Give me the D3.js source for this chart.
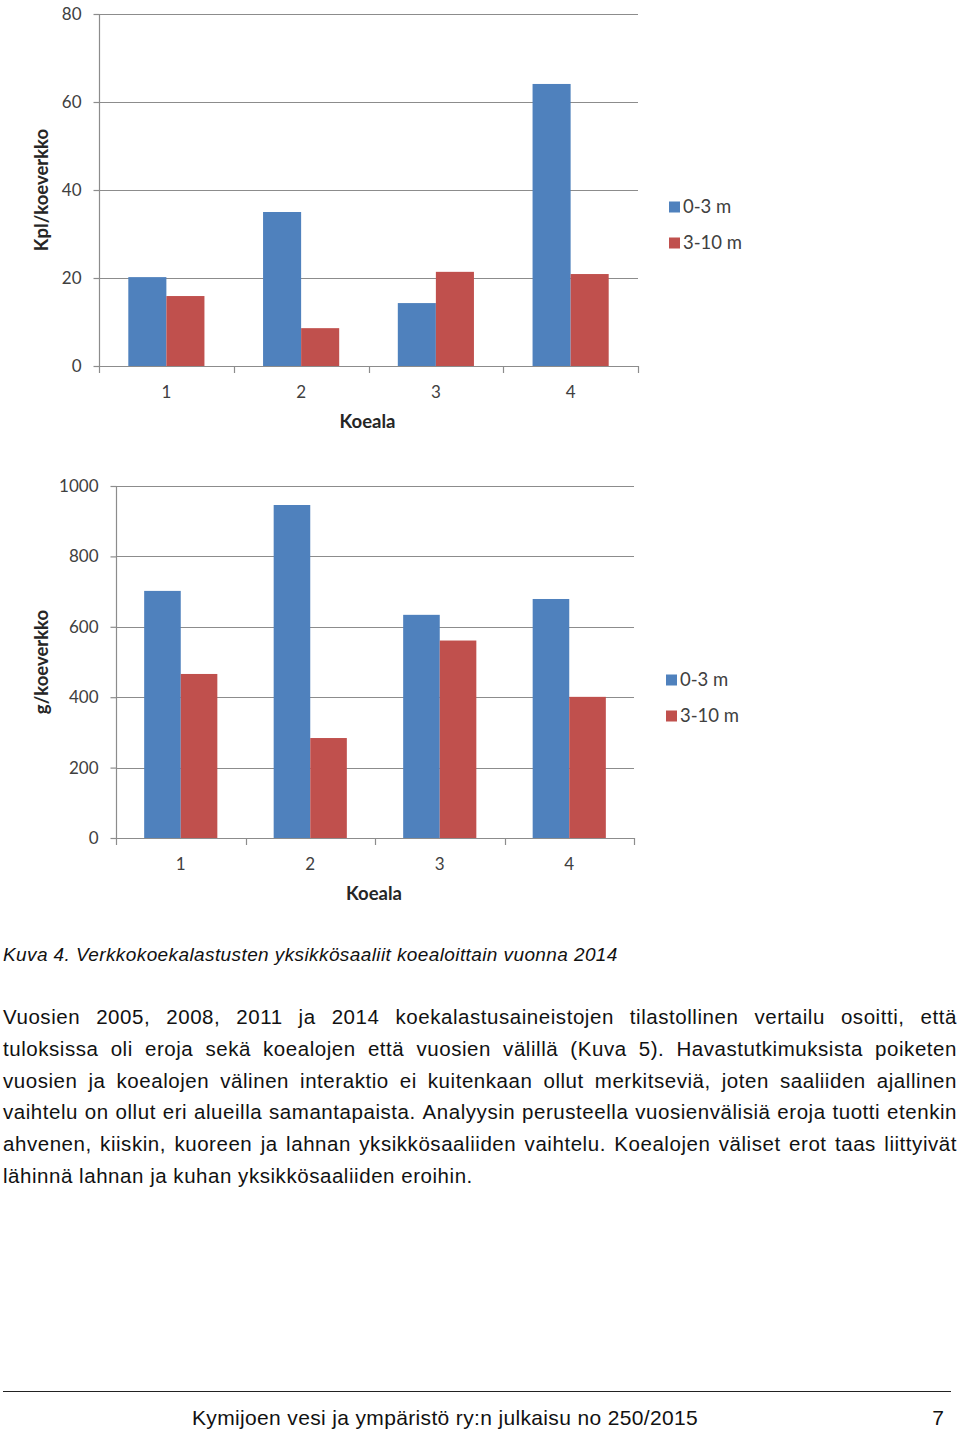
<!DOCTYPE html>
<html>
<head>
<meta charset="utf-8">
<script src="https://cdn.jsdelivr.net/npm/d3@7"></script>
<style>
  html, body { margin: 0; padding: 0; background: #fff; }
  svg { display: block; }
</style>
</head>
<body>
<svg id="page" width="960" height="1432"></svg>
<script>
// ---------- data ----------
const categories = ["1", "2", "3", "4"];
const seriesNames = ["0-3 m", "3-10 m"];
const seriesColors = ["#4F81BD", "#C0504D"];

const kplShallow = [20.2, 35.0, 14.3, 64.1];
const kplDeep = [15.9, 8.6, 21.4, 20.9];
const kplTicks = [0, 20, 40, 60, 80];

const gShallow = [702, 946, 634, 679];
const gDeep = [466, 284, 561, 401];
const gTicks = [0, 200, 400, 600, 800, 1000];

const xTitle = "Koeala";
const yTitleTop = "Kpl/koeverkko";
const yTitleBottom = "g/koeverkko";

const caption = "Kuva 4. Verkkokoekalastusten yksikkösaaliit koealoittain vuonna 2014";
const paragraphLines = [
  "Vuosien 2005, 2008, 2011 ja 2014 koekalastusaineistojen tilastollinen vertailu osoitti, että",
  "tuloksissa oli eroja sekä koealojen että vuosien välillä (Kuva 5). Havastutkimuksista poiketen",
  "vuosien ja koealojen välinen interaktio ei kuitenkaan ollut merkitseviä, joten saaliiden ajallinen",
  "vaihtelu on ollut eri alueilla samantapaista. Analyysin perusteella vuosienvälisiä eroja tuotti etenkin",
  "ahvenen, kiiskin, kuoreen ja lahnan yksikkösaaliiden vaihtelu. Koealojen väliset erot taas liittyivät",
  "lähinnä lahnan ja kuhan yksikkösaaliiden eroihin."
];
const footerText = "Kymijoen vesi ja ympäristö ry:n julkaisu no 250/2015";
const pageNumber = "7";

// ---------- drawing ----------
const svg = d3.select("#page");
const chartFont = "Lato, 'Noto Sans', sans-serif";
const textFont = "'Liberation Sans', Arial, sans-serif";
const gridColor = "#8c8c8c";
const labelColor = "#404040";

function drawChart(cfg) {
  const g = svg.append("g");
  const y = d3.scaleLinear().domain([0, cfg.max]).range([cfg.bottom, cfg.top]);
  const x0 = d3.scaleBand().domain(categories).range([cfg.left, cfg.right])
    .paddingInner(0.435).paddingOuter(0.2175);
  const x1 = d3.scaleBand().domain(seriesNames).range([0, x0.bandwidth()]).padding(0);

  // gridlines
  g.selectAll("line.grid").data(cfg.ticks.filter(t => t > 0)).join("line")
    .attr("x1", cfg.left).attr("x2", cfg.right)
    .attr("y1", d => Math.round(y(d)) + 0.5).attr("y2", d => Math.round(y(d)) + 0.5)
    .attr("stroke", gridColor).attr("stroke-width", 1.2);

  // y axis
  const yAxis = d3.axisLeft(y).tickValues(cfg.ticks).tickSize(6).tickPadding(12)
    .tickFormat(d3.format("d"));
  const ya = g.append("g").attr("transform", `translate(${cfg.left + 0.5},0)`).call(yAxis);
  ya.select(".domain").attr("stroke", gridColor).attr("stroke-width", 1.2)
    .attr("d", `M0,${cfg.bottom}V${cfg.top}`);
  ya.selectAll(".tick line").attr("stroke", gridColor).attr("stroke-width", 1.2);
  ya.selectAll(".tick text").attr("font-family", chartFont).attr("font-size", 17)
    .attr("fill", labelColor);

  // bars
  const series = [cfg.s0, cfg.s1];
  categories.forEach((c, ci) => {
    seriesNames.forEach((s, si) => {
      g.append("rect")
        .attr("x", x0(c) + x1(s))
        .attr("width", x1.bandwidth())
        .attr("y", y(series[si][ci]))
        .attr("height", y(0) - y(series[si][ci]))
        .attr("fill", seriesColors[si]);
    });
  });

  // x axis line
  g.append("line").attr("x1", cfg.left).attr("x2", cfg.right)
    .attr("y1", Math.round(y(0)) + 0.5).attr("y2", Math.round(y(0)) + 0.5)
    .attr("stroke", gridColor).attr("stroke-width", 1.2);
  // category boundary ticks
  const step = x0.step();
  const bounds = d3.range(categories.length + 1).map(i => cfg.left + i * step);
  g.selectAll("line.ctick").data(bounds).join("line")
    .attr("x1", d => Math.round(d) + 0.5).attr("x2", d => Math.round(d) + 0.5)
    .attr("y1", y(0)).attr("y2", y(0) + 7)
    .attr("stroke", gridColor).attr("stroke-width", 1.2);
  // category labels
  g.selectAll("text.cat").data(categories).join("text")
    .attr("x", d => x0(d) + x0.bandwidth() / 2)
    .attr("y", y(0) + 26)
    .attr("dy", "0.35em")
    .attr("text-anchor", "middle")
    .attr("font-family", chartFont).attr("font-size", 17).attr("fill", labelColor)
    .text(d => d);

  // titles
  g.append("text")
    .attr("x", (cfg.left + cfg.right) / 2 + cfg.xTitleShift)
    .attr("y", y(0) + 56).attr("dy", "0.35em")
    .attr("text-anchor", "middle")
    .attr("font-family", chartFont).attr("font-weight", "bold").attr("font-size", 18.5)
    .attr("fill", "#262626").text(xTitle);
  g.append("text")
    .attr("transform", `translate(42,${(cfg.top + cfg.bottom) / 2}) rotate(-90)`)
    .attr("dy", "0.35em")
    .attr("text-anchor", "middle")
    .attr("font-family", chartFont).attr("font-weight", "bold").attr("font-size", 18.5)
    .attr("fill", "#262626").text(cfg.yTitle);

  // legend
  seriesNames.forEach((s, i) => {
    const ly = cfg.legendY + i * 36;
    g.append("rect").attr("x", cfg.legendX).attr("y", ly - 5.5)
      .attr("width", 11).attr("height", 11).attr("fill", seriesColors[i]);
    g.append("text").attr("x", cfg.legendX + 14).attr("y", ly).attr("dy", "0.35em")
      .attr("font-family", chartFont).attr("font-size", 18.5).attr("fill", labelColor)
      .text(s);
  });
}

drawChart({
  left: 99, right: 638, top: 14, bottom: 366, max: 80, ticks: kplTicks,
  s0: kplShallow, s1: kplDeep, yTitle: yTitleTop,
  legendX: 669, legendY: 207, xTitleShift: -1
});
drawChart({
  left: 116, right: 634, top: 486, bottom: 838, max: 1000, ticks: gTicks,
  s0: gShallow, s1: gDeep, yTitle: yTitleBottom,
  legendX: 666, legendY: 680, xTitleShift: -1
});

// caption
svg.append("text").attr("x", 3).attr("y", 961)
  .attr("font-family", textFont).attr("font-style", "italic").attr("font-size", 19)
  .attr("letter-spacing", 0.4)
  .attr("fill", "#111").text(caption);

// justified paragraph
const paraLeft = 3, paraRight = 957, paraTop = 1024, lineH = 31.8, paraSize = 20.5;
paragraphLines.forEach((line, li) => {
  const words = line.split(" ");
  const by = paraTop + li * lineH;
  const nodes = words.map(w => svg.append("text")
    .attr("y", by).attr("font-family", textFont).attr("font-size", paraSize)
    .attr("letter-spacing", 0.55)
    .attr("fill", "#111").text(w));
  const widths = nodes.map(n => n.node().getComputedTextLength());
  const total = d3.sum(widths);
  const last = li === paragraphLines.length - 1;
  const space = last ? paraSize * 0.3 : (paraRight - paraLeft - total) / (words.length - 1);
  let cx = paraLeft;
  nodes.forEach((n, i) => { n.attr("x", cx); cx += widths[i] + space; });
});

// footer
svg.append("line").attr("x1", 3).attr("x2", 951).attr("y1", 1391.5).attr("y2", 1391.5)
  .attr("stroke", "#222").attr("stroke-width", 1);
svg.append("text").attr("x", 445).attr("y", 1425).attr("text-anchor", "middle")
  .attr("font-family", textFont).attr("font-size", 21).attr("letter-spacing", 0.35)
  .attr("fill", "#111").text(footerText);
svg.append("text").attr("x", 944).attr("y", 1425).attr("text-anchor", "end")
  .attr("font-family", textFont).attr("font-size", 21).attr("fill", "#111").text(pageNumber);
</script>
</body>
</html>
